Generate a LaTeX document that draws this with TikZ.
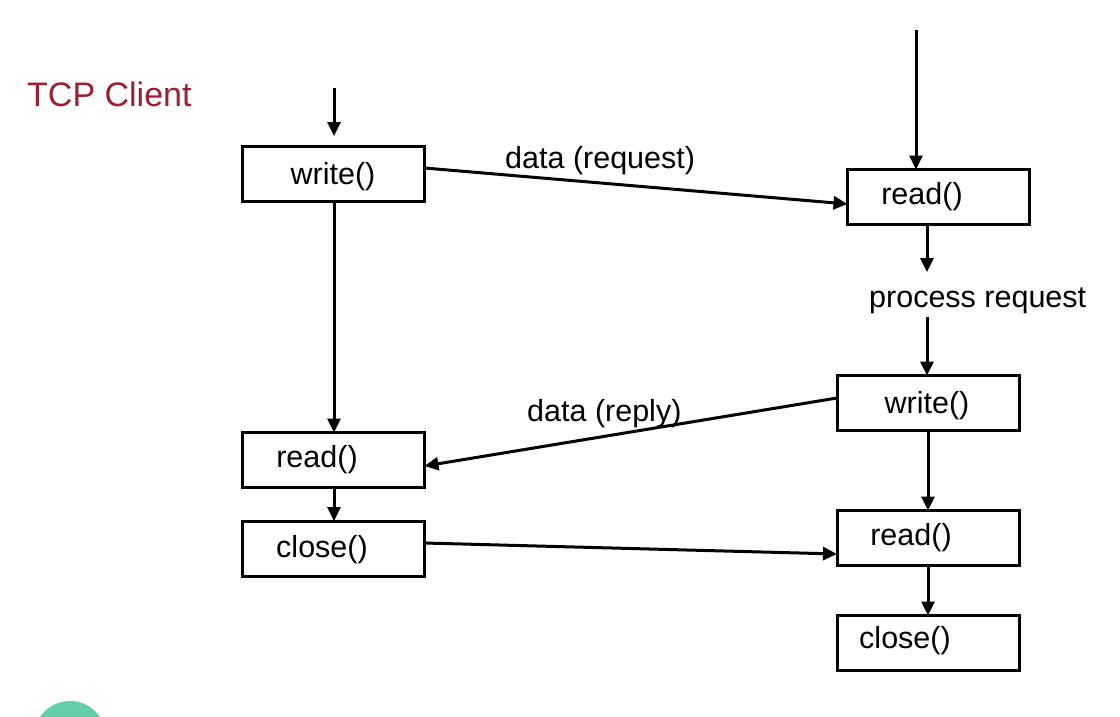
\documentclass[tikz,border=0pt]{standalone}
\usepackage{fontspec}
\setmainfont{Liberation Sans}
\usetikzlibrary{arrows.meta}
\definecolor{tcpred}{RGB}{155,30,50}
\definecolor{mint}{RGB}{102,205,170}
\tikzset{
  box/.style={draw,line width=3pt,minimum width=182pt,minimum height=55pt,inner sep=0pt,outer sep=0pt},
  lbl/.style={font=\fontsize{30.5}{34}\selectfont,inner sep=0pt},
  tipA/.tip={Triangle[length=14pt,width=13pt]},
  con/.style={draw,line width=3pt,-tipA}
}
\begin{document}
\begin{tikzpicture}[x=1pt,y=-1pt]
\useasboundingbox (0,0) rectangle (1120,716);
\fill[mint] (70,737) circle (36);
\node[font=\fontsize{34}{38}\selectfont,text=tcpred,anchor=base west,inner sep=0pt] (title) at (27,106) {TCP Client};
% client boxes
\node[box] (cw) at (333.5,174) {};
\node[box] (cr) at (333.5,460) {};
\node[box] (cc) at (333.5,548.5) {};
% server boxes
\node[box] (sr) at (938.5,197) {};
\node[box] (sw) at (928,403) {};
\node[box] (sr2) at (928,538) {};
\node[box] (sc) at (928,643) {};
% box texts
\node[lbl] (tcw) at (333,177) {write()};
\node[lbl] (tcr) at (317,460) {read()};
\node[lbl] (tcc) at (322,550) {close()};
\node[lbl] (tsr) at (922,197) {read()};
\node[lbl] (tsw) at (927,406) {write()};
\node[lbl] (tsr2) at (911,538) {read()};
\node[lbl] (tsc) at (905,641) {close()};
% free labels
\node[lbl,anchor=base west] (proc) at (869,307) {process request};
\node[lbl,anchor=base west] (lreq) at (505,168) {data (request)};
\node[lbl,anchor=base west] (lrep) at (527,421) {data (reply)};
% coordinates
\coordinate (ctop) at (334,88);
\coordinate (ctopend) at (334,136);
\coordinate (stop) at (916,30);
\coordinate (pin) at (927,272);
\coordinate (pout) at (927,317);
\coordinate (cx) at (334,0);
\coordinate (sx) at (928,0);
% vertical connectors
\path[con] (ctop) -- (ctopend);
\path[con] (stop) -- (stop |- sr.north);
\path[con] (cw.south -| cx) -- (cr.north -| cx);
\path[con] (cr.south -| cx) -- (cc.north -| cx);
\path[con] (sr.south -| pin) -- (pin);
\path[con] (pout) -- (sw.north -| pout);
\path[con] (sw.south -| sx) -- (sr2.north -| sx);
\path[con] (sr2.south -| sx) -- (sc.north -| sx);
% messages
\path[con] (cw.east |- 0,168) -- (sr.west |- 0,204);
\path[con] (sw.west |- 0,398) -- (cr.east |- 0,466);
\path[con] (cc.east |- 0,543) -- (sr2.west |- 0,554);
\end{tikzpicture}
\end{document}
